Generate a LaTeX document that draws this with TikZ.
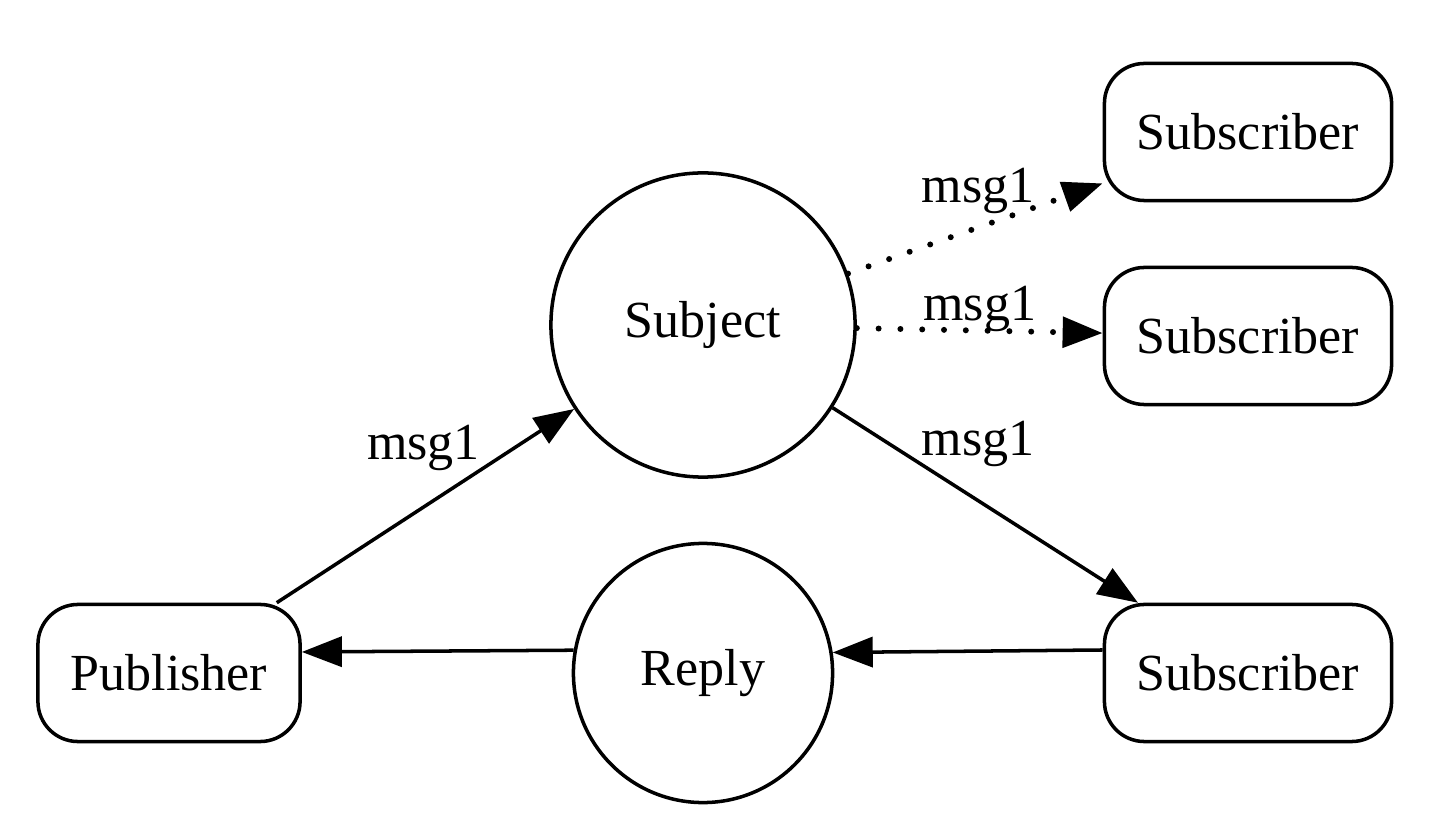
\documentclass[tikz,border=0pt]{standalone}
\usepackage{fontspec}
\setmainfont{Liberation Serif}
\usetikzlibrary{arrows.meta,positioning}

\begin{document}
\begin{tikzpicture}[x=0.01cm,y=-0.01cm,
  >={Triangle[length=0.4cm,width=0.3cm]},
  every node/.style={font=\fontsize{14.8}{17}\selectfont},
  box/.style={draw,line width=1pt,rounded corners=0.4cm,inner sep=0pt,
              minimum width=2.87cm,minimum height=1.37cm},
  pubbox/.style={box,minimum width=2.62cm},
  hub/.style={draw,line width=1pt,circle,inner sep=0pt},
  lbl/.style={inner sep=0pt},
  link/.style={->,line width=1pt},
  dots/.style={link,line cap=round,dash pattern=on 0pt off 6.2pt,line width=1.7pt}]
\useasboundingbox (0,0) rectangle (1434,822);
\node[hub,minimum size=3.04cm] (subject) at (703,325) {Subject};
\node[hub,minimum size=2.59cm] (reply) at (703,673) {Reply};
\node[pubbox] (pub) at (169,673) {Publisher};
\node[box] (subA) at (1248,132) {Subscriber};
\node[box] (subB) at (1248,336) {Subscriber};
\node[box] (subC) at (1248,673) {Subscriber};
\draw[link] (pub) -- (subject)
  node[lbl,midway,xshift=-0.02cm,yshift=0.58cm] {msg1};
\draw[dots] (subject) -- (subA)
  node[lbl,midway,xshift=0.03cm,yshift=0.38cm] {msg1};
\draw[dots] (subject) -- (subB)
  node[lbl,midway,yshift=0.22cm] {msg1};
\draw[link] (subject) -- (subC)
  node[lbl,midway,xshift=-0.07cm,yshift=0.61cm] {msg1};
\draw[link] (subC.171) -- (reply.9.5);
\draw[link] (reply.170.5) -- (pub.9);
\end{tikzpicture}
\end{document}
